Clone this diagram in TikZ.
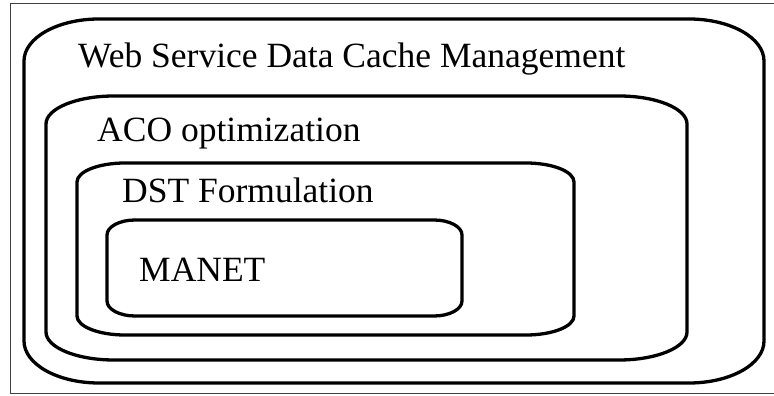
\documentclass[tikz,border=0pt]{standalone}
\usepackage{fontspec}
\setmainfont{Liberation Serif}
\newcommand\rbox[6]{% x1, ytop, x2, ybot, rx, ry  (pixel coords, y down)
  \draw[boxline] ({#1+#5},{396-#2}) -- ({#3-#5},{396-#2})
    arc[start angle=90, end angle=0, x radius=#5pt, y radius=#6pt]
    -- ({#3},{396-#4+#6})
    arc[start angle=0, end angle=-90, x radius=#5pt, y radius=#6pt]
    -- ({#1+#5},{396-#4})
    arc[start angle=270, end angle=180, x radius=#5pt, y radius=#6pt]
    -- ({#1},{396-#2-#6})
    arc[start angle=180, end angle=90, x radius=#5pt, y radius=#6pt]
    -- cycle;}
\begin{document}
\begin{tikzpicture}[x=1pt,y=1pt,
  boxline/.style={line width=3.3pt, black},
  frameline/.style={line width=1pt, black!75},
  lbl/.style={anchor=base west, inner sep=0pt, font=\fontsize{35.5}{38}\selectfont}]
\useasboundingbox[fill=white] (0,0) rectangle (774,396);
% outer frame (right side outside the picture)
\draw[frameline] (780,396-4) -- (10,396-4) -- (10,396-394) -- (780,396-394);
% nested rounded boxes
\rbox{24}{19}{764}{383}{75}{42}
\rbox{46}{96}{687}{360}{68}{28}
\rbox{77}{163}{574}{335}{48}{19}
\rbox{107}{220}{462}{316}{28}{15}
% labels
\node[lbl] (web) at (78,396-68) {Web Service Data Cache Management};
\node[lbl] (aco) at (97,396-142) {ACO optimization};
\node[lbl] (dst) at (122,396-203) {DST Formulation};
\node[lbl] (manet) at (139,396-282) {MANET};
\end{tikzpicture}
\end{document}
